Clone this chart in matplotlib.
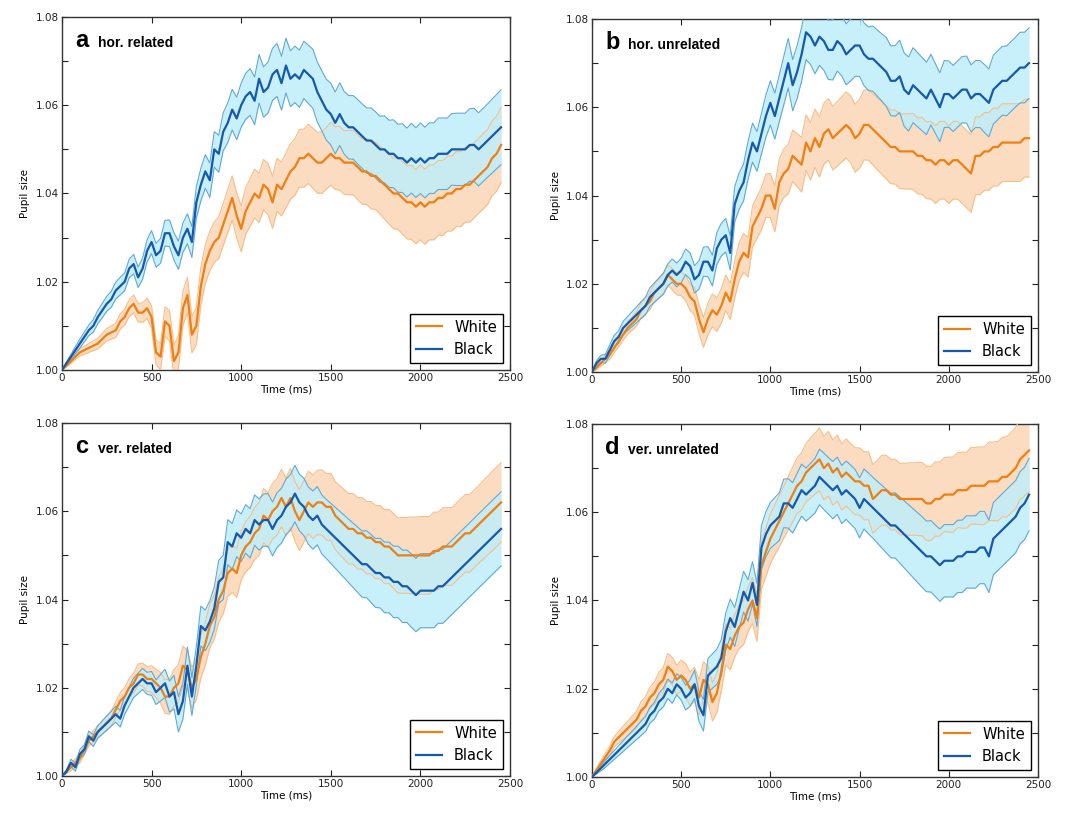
import matplotlib
matplotlib.use("Agg")
import matplotlib.pyplot as plt
from matplotlib.ticker import MultipleLocator, FuncFormatter
import numpy as np

# time axis (ms), one sample every 25 ms
time_ms = [0, 25, 50, 75, 100, 125, 150, 175, 200, 225,
           250, 275, 300, 325, 350, 375, 400, 425, 450, 475,
           500, 525, 550, 575, 600, 625, 650, 675, 700, 725,
           750, 775, 800, 825, 850, 875, 900, 925, 950, 975,
           1000, 1025, 1050, 1075, 1100, 1125, 1150, 1175, 1200, 1225,
           1250, 1275, 1300, 1325, 1350, 1375, 1400, 1425, 1450, 1475,
           1500, 1525, 1550, 1575, 1600, 1625, 1650, 1675, 1700, 1725,
           1750, 1775, 1800, 1825, 1850, 1875, 1900, 1925, 1950, 1975,
           2000, 2025, 2050, 2075, 2100, 2125, 2150, 2175, 2200, 2225,
           2250, 2275, 2300, 2325, 2350, 2375, 2400, 2425, 2450]

# ---- panel a: hor. related ----
a_black = [1.000, 1.0015, 1.003, 1.0045, 1.006, 1.0075, 1.009, 1.010, 1.012, 1.0135,
           1.015, 1.016, 1.018, 1.019, 1.020, 1.023, 1.024, 1.021, 1.023, 1.027,
           1.029, 1.026, 1.027, 1.031, 1.031, 1.028, 1.026, 1.030, 1.032, 1.029,
           1.038, 1.042, 1.045, 1.043, 1.050, 1.049, 1.054, 1.056, 1.059, 1.057,
           1.060, 1.062, 1.063, 1.061, 1.066, 1.063, 1.064, 1.067, 1.068, 1.065,
           1.069, 1.066, 1.067, 1.066, 1.068, 1.067, 1.066, 1.063, 1.061, 1.059,
           1.058, 1.056, 1.058, 1.056, 1.055, 1.055, 1.054, 1.053, 1.052, 1.052,
           1.051, 1.050, 1.050, 1.049, 1.049, 1.048, 1.048, 1.047, 1.048, 1.047,
           1.048, 1.047, 1.048, 1.048, 1.049, 1.049, 1.049, 1.050, 1.050, 1.050,
           1.050, 1.051, 1.051, 1.050, 1.051, 1.052, 1.053, 1.054, 1.055]
a_white = [1.000, 1.001, 1.002, 1.003, 1.004, 1.0045, 1.005, 1.0055, 1.006, 1.007,
           1.008, 1.0085, 1.009, 1.011, 1.012, 1.014, 1.015, 1.013, 1.013, 1.014,
           1.012, 1.004, 1.003, 1.011, 1.010, 1.002, 1.004, 1.014, 1.017, 1.008,
           1.010, 1.019, 1.024, 1.027, 1.029, 1.030, 1.033, 1.036, 1.039, 1.035,
           1.032, 1.036, 1.038, 1.040, 1.039, 1.042, 1.041, 1.038, 1.042, 1.041,
           1.043, 1.045, 1.046, 1.048, 1.048, 1.049, 1.048, 1.047, 1.047, 1.048,
           1.049, 1.048, 1.048, 1.047, 1.047, 1.047, 1.046, 1.045, 1.045, 1.044,
           1.044, 1.043, 1.042, 1.041, 1.040, 1.040, 1.039, 1.038, 1.038, 1.037,
           1.038, 1.037, 1.038, 1.038, 1.039, 1.039, 1.040, 1.040, 1.041, 1.041,
           1.042, 1.042, 1.043, 1.044, 1.045, 1.046, 1.048, 1.049, 1.051]
# error band half-widths, in thousandths
a_black_err = [0, 0.3, 0.5, 0.8, 1, 1.1, 1.2, 1.4, 1.5, 1.6,
               1.7, 1.8, 1.9, 2, 2, 2.1, 2.2, 2.3, 2.4, 2.5,
               2.6, 2.7, 2.8, 2.9, 3, 3.1, 3.2, 3.3, 3.4, 3.5,
               3.6, 3.7, 3.8, 3.9, 4, 4.2, 4.3, 4.5, 4.6, 4.8,
               5, 5.2, 5.3, 5.4, 5.5, 5.7, 5.8, 5.9, 6, 6.1,
               6.2, 6.3, 6.4, 6.5, 6.5, 6.6, 6.7, 6.8, 6.8, 6.9,
               7, 7, 7.1, 7.1, 7.2, 7.2, 7.3, 7.3, 7.4, 7.4,
               7.5, 7.5, 7.6, 7.6, 7.7, 7.7, 7.8, 7.8, 7.9, 7.9,
               8, 8, 8, 8, 8.1, 8.1, 8.1, 8.1, 8.2, 8.2,
               8.2, 8.2, 8.3, 8.3, 8.3, 8.3, 8.4, 8.4, 8.5]
a_white_err = [0, 0.3, 0.5, 0.6, 0.8, 0.9, 1, 1.1, 1.2, 1.3,
               1.4, 1.5, 1.6, 1.7, 1.8, 1.9, 2, 2.1, 2.2, 2.3,
               2.5, 2.8, 3, 3.3, 3.5, 3.6, 3.8, 3.9, 4, 4.1,
               4.2, 4.3, 4.4, 4.5, 4.6, 4.7, 4.8, 4.9, 5, 5.1,
               5.2, 5.3, 5.4, 5.5, 5.6, 5.7, 5.8, 5.9, 6, 6.1,
               6.2, 6.3, 6.4, 6.5, 6.6, 6.7, 6.8, 6.9, 7, 7,
               7.1, 7.1, 7.2, 7.2, 7.3, 7.3, 7.4, 7.4, 7.5, 7.5,
               7.6, 7.7, 7.8, 7.9, 8, 8.1, 8.2, 8.3, 8.4, 8.4,
               8.5, 8.5, 8.5, 8.5, 8.5, 8.5, 8.5, 8.5, 8.5, 8.5,
               8.5, 8.5, 8.5, 8.5, 8.5, 8.5, 8.5, 8.5, 8.5]

# ---- panel b: hor. unrelated ----
b_black = [1.000, 1.002, 1.003, 1.003, 1.005, 1.007, 1.008, 1.010, 1.011, 1.012,
           1.013, 1.014, 1.015, 1.017, 1.018, 1.019, 1.020, 1.022, 1.023, 1.022,
           1.023, 1.025, 1.024, 1.021, 1.022, 1.025, 1.025, 1.023, 1.028, 1.030,
           1.031, 1.027, 1.038, 1.041, 1.043, 1.048, 1.052, 1.050, 1.054, 1.058,
           1.061, 1.058, 1.062, 1.066, 1.070, 1.065, 1.068, 1.072, 1.077, 1.076,
           1.074, 1.076, 1.075, 1.073, 1.073, 1.075, 1.074, 1.072, 1.073, 1.074,
           1.074, 1.072, 1.071, 1.071, 1.070, 1.069, 1.068, 1.066, 1.066, 1.067,
           1.064, 1.063, 1.065, 1.064, 1.063, 1.062, 1.064, 1.062, 1.060, 1.063,
           1.063, 1.062, 1.063, 1.064, 1.064, 1.062, 1.063, 1.063, 1.062, 1.061,
           1.064, 1.065, 1.066, 1.066, 1.067, 1.068, 1.069, 1.069, 1.070]
b_white = [1.000, 1.001, 1.002, 1.003, 1.004, 1.0055, 1.007, 1.0085, 1.010, 1.011,
           1.012, 1.014, 1.015, 1.016, 1.018, 1.019, 1.020, 1.022, 1.021, 1.020,
           1.020, 1.019, 1.017, 1.016, 1.012, 1.009, 1.012, 1.014, 1.013, 1.015,
           1.018, 1.016, 1.021, 1.025, 1.027, 1.026, 1.033, 1.035, 1.037, 1.040,
           1.040, 1.037, 1.043, 1.045, 1.046, 1.049, 1.048, 1.047, 1.052, 1.050,
           1.053, 1.051, 1.054, 1.055, 1.053, 1.054, 1.055, 1.056, 1.055, 1.053,
           1.054, 1.056, 1.056, 1.055, 1.054, 1.053, 1.052, 1.051, 1.051, 1.050,
           1.050, 1.050, 1.050, 1.049, 1.049, 1.048, 1.048, 1.047, 1.048, 1.048,
           1.047, 1.048, 1.048, 1.047, 1.046, 1.045, 1.049, 1.049, 1.050, 1.050,
           1.051, 1.051, 1.052, 1.052, 1.052, 1.052, 1.052, 1.053, 1.053]
b_black_err = [0, 0.5, 0.8, 1, 1.2, 1.3, 1.4, 1.5, 1.6, 1.7,
               1.8, 1.9, 2, 2.1, 2.2, 2.3, 2.4, 2.5, 2.6, 2.7,
               2.8, 2.9, 3, 3.1, 3.2, 3.3, 3.4, 3.5, 3.6, 3.7,
               3.8, 3.9, 4, 4.1, 4.2, 4.3, 4.4, 4.5, 4.6, 4.8,
               5, 5.2, 5.3, 5.5, 5.6, 5.8, 6, 6.1, 6.2, 6.3,
               6.4, 6.5, 6.6, 6.7, 6.8, 6.8, 6.9, 6.9, 7, 7,
               7, 7.1, 7.2, 7.4, 7.5, 7.6, 7.8, 7.9, 8, 8.2,
               8.3, 8.4, 8.5, 8.4, 8.3, 8.2, 8, 7.9, 7.8, 7.6,
               7.5, 7.5, 7.5, 7.5, 7.6, 7.6, 7.6, 7.6, 7.7, 7.7,
               7.8, 7.8, 7.8, 7.9, 7.9, 7.9, 8, 8, 8]
b_white_err = [0, 0.4, 0.7, 0.9, 1, 1.1, 1.2, 1.3, 1.4, 1.5,
               1.6, 1.7, 1.8, 1.9, 2, 2.1, 2.2, 2.3, 2.4, 2.5,
               2.7, 2.8, 3, 3.1, 3.3, 3.4, 3.6, 3.7, 3.8, 3.9,
               4, 4.1, 4.2, 4.3, 4.4, 4.5, 4.6, 4.7, 4.8, 4.9,
               5, 5.2, 5.3, 5.5, 5.6, 5.8, 6, 6.2, 6.3, 6.5,
               6.6, 6.8, 6.9, 7, 7.2, 7.3, 7.4, 7.5, 7.6, 7.7,
               7.8, 7.9, 8, 8.1, 8.2, 8.2, 8.3, 8.3, 8.4, 8.4,
               8.5, 8.5, 8.6, 8.6, 8.7, 8.7, 8.8, 8.8, 8.8, 8.8,
               8.8, 8.8, 8.8, 8.8, 8.8, 8.8, 8.8, 8.8, 8.8, 8.8,
               8.8, 8.8, 8.8, 8.8, 8.8, 8.8, 8.8, 8.8, 8.8]

# ---- panel c: ver. related ----
c_black = [1.000, 1.001, 1.003, 1.002, 1.005, 1.006, 1.009, 1.008, 1.010, 1.011,
           1.012, 1.013, 1.014, 1.013, 1.016, 1.018, 1.020, 1.021, 1.022, 1.021,
           1.021, 1.019, 1.020, 1.021, 1.018, 1.019, 1.014, 1.017, 1.025, 1.018,
           1.025, 1.034, 1.033, 1.035, 1.038, 1.044, 1.045, 1.053, 1.052, 1.055,
           1.054, 1.056, 1.055, 1.058, 1.057, 1.058, 1.058, 1.056, 1.058, 1.059,
           1.061, 1.062, 1.064, 1.062, 1.061, 1.059, 1.058, 1.059, 1.057, 1.056,
           1.055, 1.054, 1.053, 1.052, 1.051, 1.050, 1.049, 1.048, 1.048, 1.047,
           1.046, 1.046, 1.045, 1.045, 1.044, 1.044, 1.043, 1.043, 1.042, 1.041,
           1.042, 1.042, 1.042, 1.042, 1.043, 1.043, 1.044, 1.045, 1.046, 1.047,
           1.048, 1.049, 1.050, 1.051, 1.052, 1.053, 1.054, 1.055, 1.056]
c_white = [1.000, 1.001, 1.002, 1.003, 1.004, 1.006, 1.008, 1.009, 1.010, 1.011,
           1.012, 1.013, 1.015, 1.017, 1.018, 1.020, 1.021, 1.023, 1.023, 1.022,
           1.022, 1.021, 1.020, 1.018, 1.018, 1.020, 1.021, 1.025, 1.024, 1.020,
           1.022, 1.027, 1.030, 1.034, 1.036, 1.040, 1.042, 1.046, 1.047, 1.046,
           1.050, 1.052, 1.053, 1.055, 1.056, 1.059, 1.058, 1.060, 1.061, 1.063,
           1.061, 1.063, 1.060, 1.058, 1.060, 1.062, 1.061, 1.062, 1.062, 1.061,
           1.061, 1.059, 1.058, 1.057, 1.056, 1.056, 1.055, 1.055, 1.054, 1.054,
           1.053, 1.053, 1.052, 1.052, 1.051, 1.050, 1.050, 1.050, 1.050, 1.050,
           1.050, 1.050, 1.050, 1.051, 1.051, 1.052, 1.052, 1.052, 1.053, 1.054,
           1.055, 1.055, 1.056, 1.057, 1.058, 1.059, 1.060, 1.061, 1.062]
c_black_err = [0, 0.4, 0.8, 0.9, 1, 1.1, 1.2, 1.3, 1.4, 1.5,
               1.6, 1.7, 1.8, 1.9, 2, 2.1, 2.2, 2.3, 2.4, 2.5,
               2.7, 2.8, 3, 3.2, 3.5, 3.8, 4, 4.1, 4.2, 4.3,
               4.4, 4.5, 4.6, 4.7, 4.8, 4.9, 5, 5.1, 5.2, 5.3,
               5.4, 5.5, 5.6, 5.7, 5.8, 5.9, 6, 6.1, 6.2, 6.2,
               6.3, 6.3, 6.4, 6.4, 6.5, 6.5, 6.6, 6.6, 6.7, 6.7,
               6.8, 6.9, 7, 7.1, 7.2, 7.3, 7.4, 7.5, 7.6, 7.7,
               7.8, 7.9, 8, 8, 8.1, 8.1, 8.2, 8.2, 8.3, 8.3,
               8.4, 8.4, 8.4, 8.4, 8.4, 8.4, 8.4, 8.4, 8.4, 8.4,
               8.4, 8.4, 8.4, 8.4, 8.4, 8.4, 8.4, 8.4, 8.4]
c_white_err = [0, 0.4, 0.8, 0.9, 1, 1.1, 1.2, 1.3, 1.4, 1.5,
               1.6, 1.7, 1.8, 1.9, 2, 2.1, 2.3, 2.4, 2.6, 2.8,
               3, 3.2, 3.5, 3.8, 4, 4.1, 4.3, 4.4, 4.5, 4.6,
               4.7, 4.8, 4.9, 4.9, 5, 5.1, 5.2, 5.3, 5.4, 5.5,
               5.6, 5.7, 5.8, 5.9, 6, 6.1, 6.2, 6.3, 6.4, 6.5,
               6.6, 6.7, 6.8, 6.9, 7, 7.1, 7.2, 7.3, 7.4, 7.5,
               7.6, 7.7, 7.8, 7.9, 8, 8, 8.1, 8.1, 8.2, 8.2,
               8.3, 8.3, 8.4, 8.4, 8.5, 8.5, 8.6, 8.6, 8.7, 8.7,
               8.8, 8.8, 8.8, 8.8, 8.8, 8.8, 8.8, 8.8, 8.8, 8.8,
               8.8, 8.8, 8.8, 8.8, 8.9, 8.9, 9, 9, 9]

# ---- panel d: ver. unrelated ----
d_black = [1.000, 1.001, 1.002, 1.003, 1.004, 1.005, 1.006, 1.007, 1.008, 1.009,
           1.010, 1.011, 1.012, 1.014, 1.015, 1.017, 1.018, 1.020, 1.019, 1.021,
           1.020, 1.018, 1.019, 1.021, 1.016, 1.014, 1.023, 1.024, 1.025, 1.027,
           1.033, 1.036, 1.034, 1.038, 1.042, 1.040, 1.044, 1.039, 1.052, 1.055,
           1.057, 1.058, 1.059, 1.062, 1.062, 1.061, 1.063, 1.065, 1.064, 1.065,
           1.066, 1.068, 1.067, 1.066, 1.065, 1.066, 1.064, 1.065, 1.064, 1.063,
           1.061, 1.063, 1.062, 1.061, 1.060, 1.059, 1.058, 1.057, 1.057, 1.056,
           1.055, 1.054, 1.053, 1.052, 1.051, 1.050, 1.050, 1.049, 1.048, 1.049,
           1.049, 1.049, 1.050, 1.050, 1.051, 1.051, 1.051, 1.052, 1.052, 1.050,
           1.054, 1.055, 1.056, 1.057, 1.058, 1.059, 1.061, 1.062, 1.064]
d_white = [1.000, 1.0015, 1.003, 1.0045, 1.006, 1.008, 1.009, 1.010, 1.011, 1.012,
           1.013, 1.015, 1.016, 1.018, 1.019, 1.021, 1.022, 1.025, 1.024, 1.022,
           1.023, 1.022, 1.020, 1.021, 1.018, 1.022, 1.021, 1.017, 1.019, 1.024,
           1.030, 1.029, 1.032, 1.034, 1.035, 1.038, 1.040, 1.036, 1.048, 1.051,
           1.054, 1.056, 1.058, 1.060, 1.062, 1.064, 1.066, 1.067, 1.069, 1.070,
           1.071, 1.072, 1.070, 1.071, 1.069, 1.070, 1.068, 1.069, 1.068, 1.067,
           1.067, 1.066, 1.066, 1.063, 1.064, 1.065, 1.065, 1.064, 1.064, 1.063,
           1.063, 1.063, 1.063, 1.063, 1.063, 1.062, 1.062, 1.063, 1.063, 1.064,
           1.064, 1.064, 1.065, 1.065, 1.065, 1.066, 1.066, 1.066, 1.066, 1.067,
           1.067, 1.067, 1.068, 1.068, 1.069, 1.070, 1.072, 1.073, 1.074]
d_black_err = [0, 0.3, 0.6, 0.8, 0.9, 1, 1.1, 1.2, 1.3, 1.4,
               1.5, 1.6, 1.7, 1.8, 1.9, 2, 2.1, 2.2, 2.3, 2.4,
               2.6, 2.8, 3, 3.2, 3.4, 3.6, 3.8, 3.9, 4, 4.1,
               4.2, 4.3, 4.4, 4.5, 4.6, 4.7, 4.8, 4.9, 5, 5.1,
               5.2, 5.3, 5.4, 5.5, 5.6, 5.7, 5.8, 5.9, 6, 6.1,
               6.2, 6.3, 6.4, 6.4, 6.5, 6.5, 6.6, 6.6, 6.7, 6.7,
               6.8, 6.8, 6.9, 6.9, 7, 7.1, 7.2, 7.3, 7.4, 7.5,
               7.6, 7.7, 7.8, 7.9, 8, 8, 8.1, 8.1, 8.2, 8.2,
               8.2, 8.2, 8.2, 8.2, 8.2, 8.2, 8.2, 8.2, 8.2, 8.2,
               8.2, 8.2, 8.2, 8.2, 8.2, 8.2, 8.2, 8.2, 8.2]
d_white_err = [0, 0.4, 0.7, 0.9, 1, 1.2, 1.3, 1.5, 1.6, 1.8,
               1.9, 2.1, 2.2, 2.4, 2.5, 2.7, 2.8, 3, 3.1, 3.3,
               3.5, 3.7, 3.8, 3.9, 4, 4.1, 4.2, 4.3, 4.4, 4.5,
               4.6, 4.7, 4.8, 4.9, 5, 5.1, 5.2, 5.3, 5.4, 5.5,
               5.6, 5.7, 5.8, 5.9, 6, 6.2, 6.3, 6.5, 6.6, 6.8,
               6.9, 7.1, 7.2, 7.3, 7.4, 7.5, 7.5, 7.6, 7.6, 7.6,
               7.6, 7.7, 7.7, 7.8, 7.8, 7.9, 7.9, 8, 8, 8.1,
               8.1, 8.2, 8.2, 8.3, 8.3, 8.4, 8.4, 8.4, 8.4, 8.4,
               8.5, 8.5, 8.5, 8.6, 8.6, 8.7, 8.7, 8.8, 8.8, 8.9,
               8.9, 9, 9, 9.1, 9.1, 9.2, 9.2, 9.3, 9.3]

panels = [
    ("a", "hor. related", a_white, a_white_err, a_black, a_black_err),
    ("b", "hor. unrelated", b_white, b_white_err, b_black, b_black_err),
    ("c", "ver. related", c_white, c_white_err, c_black, c_black_err),
    ("d", "ver. unrelated", d_white, d_white_err, d_black, d_black_err),
]

# axes rectangles in figure fraction
boxes = [[0.0572, 0.5449, 0.4137, 0.4342],
         [0.5466, 0.5424, 0.4118, 0.4342],
         [0.0572, 0.0455, 0.4137, 0.4342],
         [0.5466, 0.0443, 0.4118, 0.4342]]

orange = "#ee7f12"
orange_fill = "#fcdcc0"
orange_edge = "#f5bf8a"
blue = "#1559ad"
blue_fill = "#bfeefa"
blue_edge = "#5fa9d6"

fig = plt.figure(figsize=(10.83, 8.13), dpi=100)
t = np.array(time_ms)

for (letter, title, white, white_err, black, black_err), box in zip(panels, boxes):
    ax = fig.add_axes(box)
    w = np.array(white)
    we = np.array(white_err) / 1000
    b = np.array(black)
    be = np.array(black_err) / 1000

    ax.fill_between(t, w - we, w + we, color=orange_fill, lw=0, zorder=1)
    ax.fill_between(t, b - be, b + be, color=blue_fill, alpha=0.85, lw=0, zorder=2)
    ax.plot(t, w + we, color=orange_edge, lw=0.8, zorder=3)
    ax.plot(t, w - we, color=orange_edge, lw=0.8, zorder=3)
    ax.plot(t, b + be, color=blue_edge, lw=0.8, zorder=3)
    ax.plot(t, b - be, color=blue_edge, lw=0.8, zorder=3)
    ax.plot(t, w, color=orange, lw=1.6, label="White", zorder=4)
    ax.plot(t, b, color=blue, lw=1.6, label="Black", zorder=4)

    ax.set_xlim(0, 2500)
    ax.set_ylim(1.0, 1.08)
    ax.xaxis.set_major_locator(MultipleLocator(500))
    ax.yaxis.set_major_locator(MultipleLocator(0.01))
    ax.yaxis.set_major_formatter(FuncFormatter(
        lambda v, p: "%.2f" % v if round(v * 100) % 2 == 0 else ""))
    ax.tick_params(direction="in", top=True, right=True, length=4,
                   width=0.8, labelsize=7.5, pad=2, colors="#222222")
    for s in ax.spines.values():
        s.set_linewidth(1.0)
        s.set_color("#333333")
    ax.set_xlabel("Time (ms)", fontsize=7.5, labelpad=1)
    ax.set_ylabel("Pupil size", fontsize=7.5, labelpad=4)

    ax.text(0.03, 0.915, letter, transform=ax.transAxes, fontsize=17,
            fontweight="bold", family="Liberation Sans", va="baseline")
    ax.text(0.08, 0.915, title, transform=ax.transAxes, fontsize=10,
            fontweight="bold", family="Liberation Sans", va="baseline")

    leg = ax.legend(loc="lower right", fontsize=10.5, fancybox=False,
                    handlelength=1.8, borderaxespad=0.5, framealpha=1)
    leg.get_frame().set_edgecolor("black")
    leg.get_frame().set_linewidth(1.0)

fig.savefig("out.png", dpi=100)
